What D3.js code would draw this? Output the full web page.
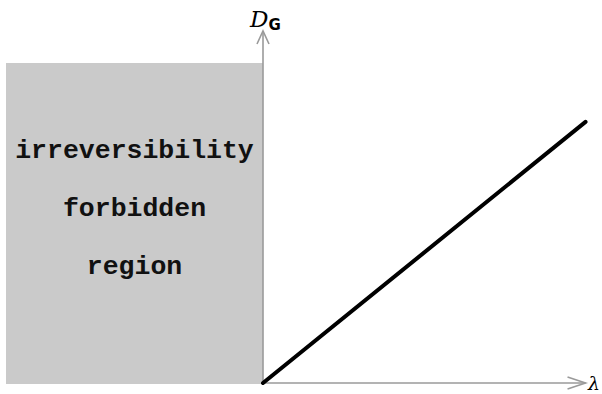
<!DOCTYPE html>
<html>
<head>
<meta charset="utf-8">
<script src="https://cdn.jsdelivr.net/npm/d3@7"></script>
<style>
  html, body { margin: 0; padding: 0; background: #fff; }
  svg { display: block; }
</style>
</head>
<body>
<svg id="chart" width="602" height="394"></svg>
<script>
// Forbidden region spans negative x; the allowed relation is a straight line through the origin.
const regionX = [-1, 0];
const regionY = [0, 1.25];
const regionLines = ["irreversibility", "forbidden", "region"];
const lineX = [0, 1.255];
const lineY = [0, 1.02];
const axisXEnd = 1.255;
const axisYEnd = 1.375;
const yLabelMain = "D";
const yLabelSub = "G";
const xLabel = "λ";

const svg = d3.select("#chart");

const x = d3.scaleLinear().domain([-1, 0]).range([6, 263]);
const y = d3.scaleLinear().domain([0, 1]).range([383, 127]);

// shaded forbidden region
svg.append("rect")
  .attr("x", x(regionX[0]))
  .attr("y", y(regionY[1]))
  .attr("width", x(regionX[1]) - x(regionX[0]))
  .attr("height", y(regionY[0]) - y(regionY[1]) + 1)
  .attr("fill", "#cacaca");

// region caption
const cx = (x(regionX[0]) + x(regionX[1])) / 2;
svg.append("g").selectAll("text")
  .data(regionLines)
  .join("text")
  .attr("x", cx)
  .attr("y", (d, i) => 158 + i * 58)
  .attr("text-anchor", "middle")
  .attr("font-family", "'Liberation Mono', 'DejaVu Sans Mono', monospace")
  .attr("font-weight", "bold")
  .attr("font-size", 26.5)
  .attr("fill", "#111")
  .text(d => d);

const axisColor = "#9a9a9a";

// axes
svg.append("line")
  .attr("x1", x(0)).attr("y1", y(0))
  .attr("x2", x(axisXEnd)).attr("y2", y(0))
  .attr("stroke", axisColor).attr("stroke-width", 1.6);
svg.append("line")
  .attr("x1", x(0)).attr("y1", y(0))
  .attr("x2", x(0)).attr("y2", y(axisYEnd))
  .attr("stroke", axisColor).attr("stroke-width", 1.6);

// open arrowheads
const xt = [x(axisXEnd), y(0)];
svg.append("path")
  .attr("d", `M${xt[0] - 18},${xt[1] - 6} L${xt[0]},${xt[1]} L${xt[0] - 18},${xt[1] + 6}`)
  .attr("fill", "none").attr("stroke", axisColor).attr("stroke-width", 1.6);
const yt = [x(0), y(axisYEnd)];
svg.append("path")
  .attr("d", `M${yt[0] - 6},${yt[1] + 13} L${yt[0]},${yt[1]} L${yt[0] + 6},${yt[1] + 13}`)
  .attr("fill", "none").attr("stroke", axisColor).attr("stroke-width", 1.6);

// the line
svg.append("path")
  .datum(d3.zip(lineX, lineY))
  .attr("d", d3.line().x(d => x(d[0])).y(d => y(d[1])))
  .attr("fill", "none")
  .attr("stroke", "#000")
  .attr("stroke-width", 4)
  .attr("stroke-linecap", "round");

// axis labels
const yl = svg.append("text")
  .attr("x", 250).attr("y", 27)
  .attr("fill", "#000");
yl.append("tspan")
  .attr("font-family", "'DejaVu Serif', serif")
  .attr("font-style", "italic")
  .attr("font-size", 23)
  .text(yLabelMain);
yl.append("tspan")
  .attr("font-family", "'DejaVu Sans', sans-serif")
  .attr("font-weight", "bold")
  .attr("font-size", 15)
  .attr("dy", 3)
  .text(yLabelSub);

svg.append("text")
  .attr("x", 588).attr("y", 390)
  .attr("font-family", "'DejaVu Serif', serif")
  .attr("font-style", "italic")
  .attr("font-size", 19)
  .attr("fill", "#000")
  .text(xLabel);
</script>
</body>
</html>
